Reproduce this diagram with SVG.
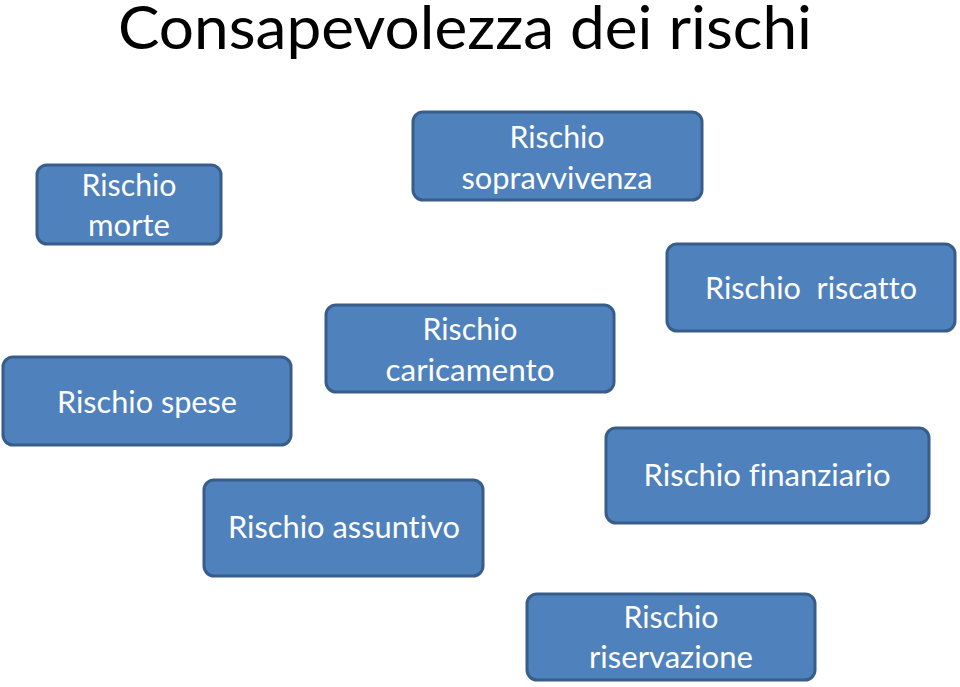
<svg xmlns="http://www.w3.org/2000/svg" width="960" height="687" viewBox="0 0 960 687">
<style>
.box{fill:#4f81bd;stroke:#385d8a;stroke-width:3}
.t{font-family:Lato,"Open Sans","Liberation Sans",sans-serif;font-size:30px;fill:#ffffff;text-anchor:middle;font-variant-ligatures:none}
.title{font-family:Lato,"Open Sans","Liberation Sans",sans-serif;font-size:60px;fill:#000000;font-variant-ligatures:none}
</style>
<rect width="960" height="687" fill="#ffffff"/>
<text class="title" x="118" y="49" textLength="694" lengthAdjust="spacingAndGlyphs">Consapevolezza dei rischi</text>
<g id="connectors"></g>
<g id="n-morte">
<rect class="box" x="37" y="165" width="184" height="79" rx="10"/>
<text class="t" x="129" y="196" textLength="95" lengthAdjust="spacingAndGlyphs">Rischio</text>
<text class="t" x="129" y="236" textLength="82" lengthAdjust="spacingAndGlyphs">morte</text>
</g>
<g id="n-sopravvivenza">
<rect class="box" x="413" y="112" width="289" height="88" rx="10"/>
<text class="t" x="557" y="148" textLength="95" lengthAdjust="spacingAndGlyphs">Rischio</text>
<text class="t" x="557" y="189" textLength="191" lengthAdjust="spacingAndGlyphs">sopravvivenza</text>
</g>
<g id="n-riscatto">
<rect class="box" x="667" y="244" width="288" height="87" rx="10"/>
<text class="t" x="811" y="299" textLength="212" lengthAdjust="spacingAndGlyphs" xml:space="preserve">Rischio  riscatto</text>
</g>
<g id="n-caricamento">
<rect class="box" x="326" y="305" width="288" height="87" rx="10"/>
<text class="t" x="470" y="340" textLength="95" lengthAdjust="spacingAndGlyphs">Rischio</text>
<text class="t" x="470" y="381" textLength="169" lengthAdjust="spacingAndGlyphs">caricamento</text>
</g>
<g id="n-spese">
<rect class="box" x="3" y="357" width="288" height="88" rx="10"/>
<text class="t" x="147" y="413" textLength="180" lengthAdjust="spacingAndGlyphs">Rischio spese</text>
</g>
<g id="n-finanziario">
<rect class="box" x="606" y="428" width="323" height="95" rx="10"/>
<text class="t" x="767" y="486" textLength="247" lengthAdjust="spacingAndGlyphs">Rischio finanziario</text>
</g>
<g id="n-assuntivo">
<rect class="box" x="204" y="480" width="279" height="96" rx="10"/>
<text class="t" x="344" y="538" textLength="232" lengthAdjust="spacingAndGlyphs">Rischio assuntivo</text>
</g>
<g id="n-riservazione">
<rect class="box" x="527" y="594" width="288" height="86" rx="10"/>
<text class="t" x="671" y="628" textLength="95" lengthAdjust="spacingAndGlyphs">Rischio</text>
<text class="t" x="671" y="668" textLength="164" lengthAdjust="spacingAndGlyphs">riservazione</text>
</g>
</svg>
